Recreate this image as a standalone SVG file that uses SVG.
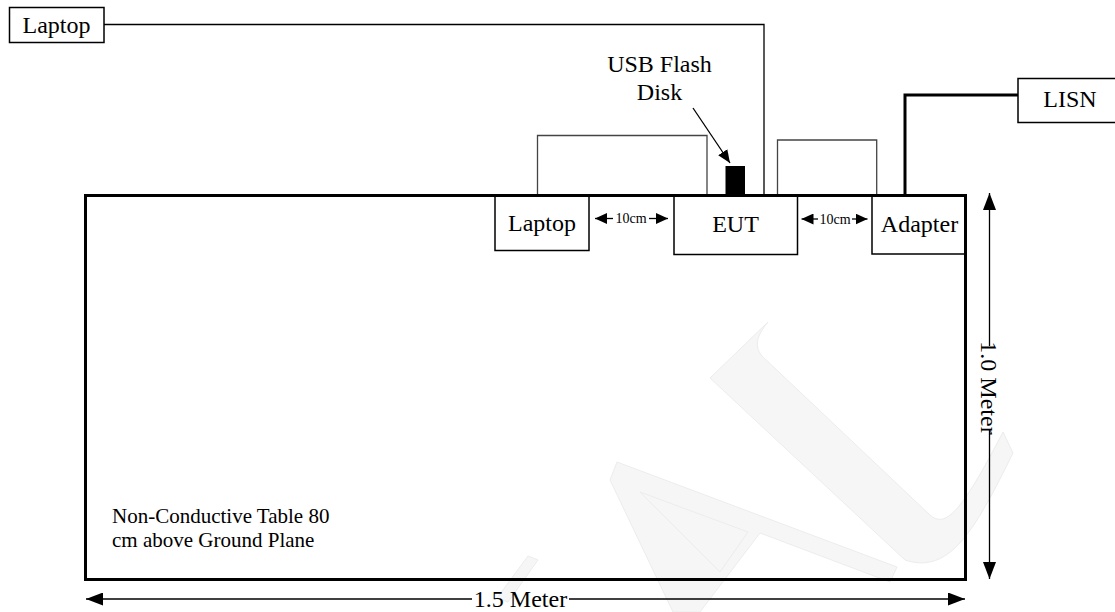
<svg xmlns="http://www.w3.org/2000/svg" width="1115" height="612" viewBox="0 0 1115 612">
<style>
.t{font-family:"Liberation Serif","Times New Roman",serif;font-size:24px;fill:#000;text-anchor:middle}
.s{font-family:"Liberation Serif","Times New Roman",serif;font-size:14px;fill:#000;text-anchor:middle}
.n{font-family:"Liberation Serif","Times New Roman",serif;font-size:21px;fill:#000}
.box{fill:#fff;stroke:#000;stroke-width:1.5}
.wire{fill:none;stroke:#000;stroke-width:1.3}
.loop{fill:none;stroke:#444;stroke-width:1.3}
.dim{fill:none;stroke:#000;stroke-width:1.3}
.wm{fill:#f6f6f6;stroke:#ececec;stroke-width:1}
</style>
<defs>
<marker id="big" viewBox="0 0 17 13" refX="17" refY="6.5" markerWidth="17" markerHeight="13" orient="auto" markerUnits="userSpaceOnUse"><path d="M0,0 L17,6.5 L0,13 z" fill="#000"/></marker>
<marker id="small" viewBox="0 0 12 11" refX="12" refY="5.5" markerWidth="12" markerHeight="11" orient="auto" markerUnits="userSpaceOnUse"><path d="M0,0 L12,5.5 L0,11 z" fill="#000"/></marker>
<marker id="usb" viewBox="0 0 13 11" refX="13" refY="5.5" markerWidth="13" markerHeight="11" orient="auto" markerUnits="userSpaceOnUse"><path d="M0,0 L13,5.5 L0,11 z" fill="#000"/></marker>
</defs>
<rect width="1115" height="612" fill="#fff"/>
<g id="watermark">
<path class="wm" d="M610,480 L617,462 L897,567 L890,582 L760,533 L700,612 L673,612 Z M640,492 L748,532 L720,572 Z"/>
<path class="wm" d="M710,378 L768,322 C760,332 752,344 762,356 L930,515 C945,528 960,515 1003,432 L1013,453 C975,530 950,575 905,560 Z"/>
<path class="wm" d="M528,556 L538,560 L508,602 L497,598 Z"/>
</g>
<g id="connectors">
<path class="wire" d="M104,24.5 H764 V195"/>
<path class="loop" d="M537.5,195 V135.5 H707 V195"/>
<path class="loop" d="M777.5,195 V140 H876.7 V195"/>
<path fill="none" stroke="#000" stroke-width="3" d="M905,195 V95 H1018"/>
<line class="wire" x1="693" y1="108" x2="730" y2="163" marker-end="url(#usb)"/>
<line class="dim" x1="613" y1="218.5" x2="595" y2="218.5" marker-end="url(#small)"/>
<line class="dim" x1="649" y1="218.5" x2="668" y2="218.5" marker-end="url(#small)"/>
<line class="dim" x1="818" y1="219" x2="801.5" y2="219" marker-end="url(#small)"/>
<line class="dim" x1="852" y1="219" x2="867.5" y2="219" marker-end="url(#small)"/>
<line class="dim" x1="989.5" y1="346" x2="989.5" y2="193" marker-end="url(#big)"/>
<line class="dim" x1="989.5" y1="430" x2="989.5" y2="579" marker-end="url(#big)"/>
<line class="dim" x1="472" y1="599" x2="86" y2="599" marker-end="url(#big)"/>
<line class="dim" x1="569" y1="599" x2="965" y2="599" marker-end="url(#big)"/>
</g>
<g id="laptop-remote">
<rect class="box" x="9.5" y="7.5" width="94.5" height="35"/>
<text class="t" x="56.5" y="32.5">Laptop</text>
</g>
<g id="lisn">
<rect class="box" x="1018" y="78.5" width="100" height="44"/>
<text class="t" x="1070" y="107">LISN</text>
</g>
<g id="laptop">
<rect class="box" x="495" y="195.5" width="94" height="55"/>
<text class="t" x="542" y="231">Laptop</text>
</g>
<g id="eut">
<rect class="box" x="674" y="195.5" width="123.5" height="59"/>
<text class="t" x="735.5" y="232">EUT</text>
</g>
<g id="adapter">
<rect class="box" x="872" y="195.5" width="93.5" height="58.5"/>
<text class="t" x="919.5" y="232">Adapter</text>
</g>
<g id="usb-disk">
<rect x="725.5" y="166" width="19.5" height="29" fill="#000"/>
<text class="t" x="659.5" y="72">USB Flash</text>
<text class="t" x="659.5" y="100">Disk</text>
</g>
<g id="table">
<rect x="85.5" y="195.5" width="880" height="384" fill="none" stroke="#000" stroke-width="3"/>
<text class="n" x="112" y="523">Non-Conductive Table 80</text>
<text class="n" x="112" y="547">cm above Ground Plane</text>
</g>
<g id="labels">
<text class="s" x="631" y="223">10cm</text>
<text class="s" x="835" y="223.5">10cm</text>
<text class="t" transform="translate(981,388) rotate(90)" x="0" y="0">1.0 Meter</text>
<text class="t" x="520.5" y="607">1.5 Meter</text>
</g>
</svg>
